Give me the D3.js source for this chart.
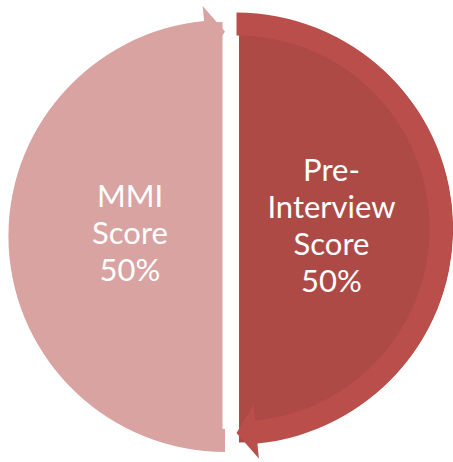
<!DOCTYPE html>
<html>
<head>
<meta charset="utf-8">
<script src="https://cdn.jsdelivr.net/npm/d3@7"></script>
<style>
  html, body { margin: 0; padding: 0; background: #ffffff; }
  svg { display: block; }
</style>
</head>
<body>
<svg id="chart" width="453" height="462"></svg>
<script>
// ---- data ----
const categories = ["MMI Score", "Pre-Interview Score"];
const values = [50, 50];
const unit = "%";

// ---- styles ----
const fillColors = ["#d9a3a2", "#ad4a46"];
const ringColors = ["#d9a3a2", "#b94e4b"];
const centers = [[225, 236], [236.5, 228.5]];
const fillShift = [-2.5, 2.5];

const W = 453, H = 462;
const R = 216, ringInner = 193;
const headOuter = 231, headInner = 177, headAngle = 0.097;
const fontSize = 31, lineH = 37;

const svg = d3.select("#chart");

const pie = d3.pie().sort(null).value(d => d).startAngle(Math.PI).endAngle(3 * Math.PI);
const arcs = pie(values);

const fillArc = d3.arc().innerRadius(0).outerRadius(R - 2);
const labelArc = d3.arc().innerRadius(0).outerRadius(190);

const pt = (r, a) => [r * Math.sin(a), -r * Math.cos(a)];

function ringArrow(a0, a1) {
  const ah = a1 - headAngle;
  const p = d3.path();
  const s = pt(R, a0);
  p.moveTo(s[0], s[1]);
  p.arc(0, 0, R, a0 - Math.PI / 2, ah - Math.PI / 2, false);
  let q = pt(headOuter, ah); p.lineTo(q[0], q[1]);
  q = pt((R + ringInner) / 2, a1); p.lineTo(q[0], q[1]);
  q = pt(headInner, ah); p.lineTo(q[0], q[1]);
  q = pt(ringInner, ah); p.lineTo(q[0], q[1]);
  p.arc(0, 0, ringInner, ah - Math.PI / 2, a0 - Math.PI / 2, true);
  p.closePath();
  return p.toString();
}

arcs.forEach((d, i) => {
  const [cx, cy] = centers[i];
  const g = svg.append("g").attr("transform", `translate(${cx},${cy})`);
  g.append("path")
    .attr("d", fillArc(d))
    .attr("transform", `translate(${fillShift[i]},0)`)
    .attr("fill", fillColors[i]);
  g.append("path")
    .attr("d", ringArrow(d.startAngle, d.endAngle))
    .attr("fill", ringColors[i]);

  const lines = categories[i].split(/(?<=-)|\s+/).concat([values[i] + unit]);
  const c = labelArc.centroid(d);
  const n = lines.length;
  const y0 = -(n - 1) * lineH / 2 + 8;
  const t = g.append("text")
    .attr("text-anchor", "middle")
    .attr("fill", "#ffffff")
    .attr("font-family", "Lato, 'Open Sans', sans-serif")
    .attr("font-size", fontSize);
  lines.forEach((ln, j) => {
    t.append("tspan").attr("x", c[0]).attr("y", y0 + j * lineH).text(ln);
  });
});
</script>
</body>
</html>
